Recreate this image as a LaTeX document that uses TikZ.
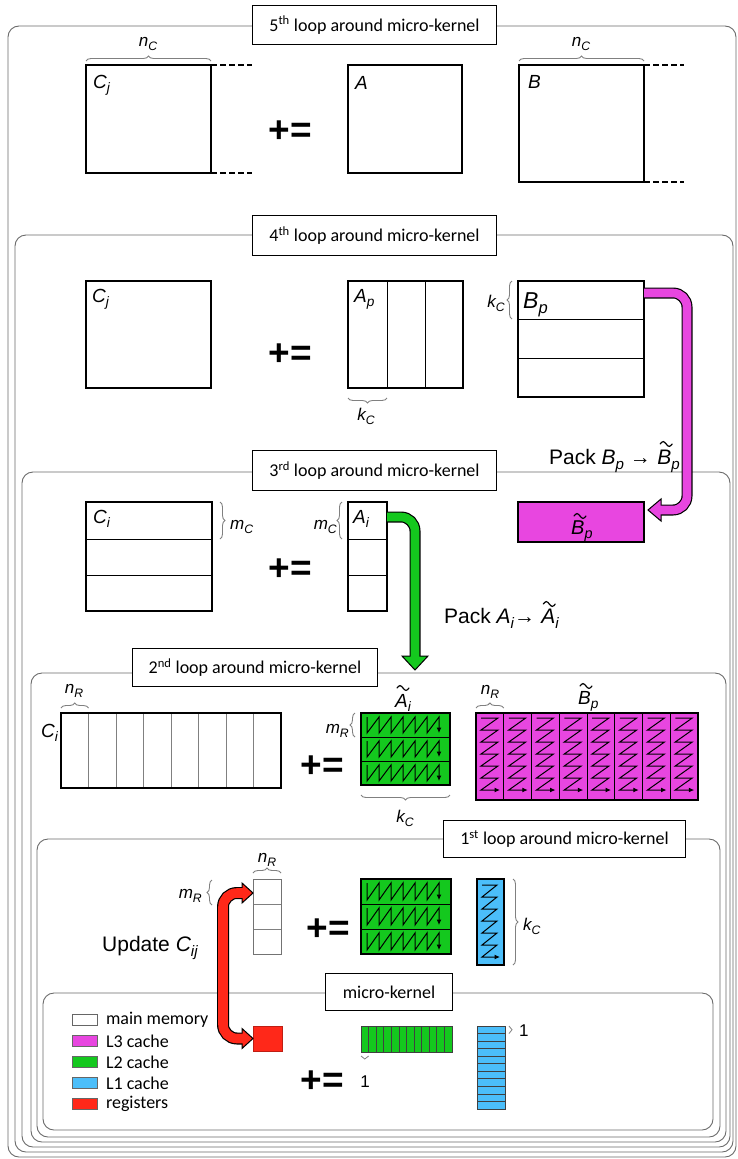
\documentclass[tikz,border=0pt]{standalone}
\usepackage{fontspec}
\usepackage{graphicx}
\setmainfont{Carlito}
\newfontfamily\hv{Liberation Sans}
\usetikzlibrary{arrows.meta,decorations.pathreplacing,calc}
\definecolor{mag}{HTML}{E846E0}
\definecolor{grn}{HTML}{14C81E}
\definecolor{blu}{HTML}{4BBEFA}
\definecolor{rgs}{HTML}{FF2819}
\definecolor{frm}{HTML}{6A6A6A}
\newcommand\fs[1]{\fontsize{#1}{#1}\selectfont}
\newcommand\mi{\hv\itshape}
\newcommand\sbs[1]{\raisebox{-0.24em}{\scalebox{0.72}{#1}}}
\newcommand\tildeat[1]{\draw[line width=1.2pt, line cap=round] ($(#1)+(-6,0)$) sin ++(3,-2.4) cos ++(3,2.4) sin ++(3,2.4) cos ++(3,-2.4);}
\tikzset{
  mat/.style={draw=black, line width=1.3pt, inner sep=0pt, outer sep=0pt, anchor=north west},
  loopframe/.style={draw=frm, line width=0.9pt, rounded corners=11pt},
  looplabel/.style={draw=black, line width=1pt, fill=white, inner sep=0pt, anchor=north west, font=\fs{18}},
  pe/.style={font=\hv\bfseries\fs{37}, inner sep=0pt},
  ml/.style={font=\mi\fs{19}, inner sep=0pt},
  sl/.style={font=\mi\fs{17}, inner sep=0pt},
  brc/.style={decorate, decoration={brace, amplitude=5pt}, draw=black!50, line width=0.9pt},
  smallbrc/.style={decorate, decoration={brace, amplitude=3pt}, draw=black!50, line width=0.8pt},
  zz/.style={line width=1pt, -{Latex[length=5.5pt,width=5pt]}},
  fatback/.style={line width=11pt, draw=black, rounded corners=14pt},
  fathead/.style={draw=black, line width=1pt, line join=miter},
  divline/.style={line width=1pt},
  graydiv/.style={draw=black!50, line width=0.8pt},
}
\begin{document}
\begin{tikzpicture}[x=1pt,y=-1pt]
\useasboundingbox (0,0) rectangle (737,1159);
% ---------- loop frames ----------
\draw[loopframe] (8,26) rectangle (736,1157);
\draw[loopframe] (15,235) rectangle (733,1152);
\draw[loopframe] (22,472) rectangle (730,1147);
\draw[loopframe] (31,673) rectangle (726,1142);
\draw[loopframe] (37,839) rectangle (720,1137);
\draw[loopframe] (43,993) rectangle (713,1130);
% ---------- loop labels ----------
\node[looplabel, minimum width=244, minimum height=39] (L5) at (252,5) {5\textsuperscript{th} loop around micro-kernel};
\node[looplabel, minimum width=244, minimum height=40] (L4) at (252,215) {4\textsuperscript{th} loop around micro-kernel};
\node[looplabel, minimum width=244, minimum height=40] (L3) at (252,450) {3\textsuperscript{rd} loop around micro-kernel};
\node[looplabel, minimum width=245, minimum height=38] (L2) at (132,648) {2\textsuperscript{nd} loop around micro-kernel};
\node[looplabel, minimum width=242, minimum height=37] (L1) at (443,820) {1\textsuperscript{st} loop around micro-kernel};
\node[looplabel, minimum width=127, minimum height=37] (L0) at (325,973) {micro-kernel};

% ---------- 5th loop ----------
\node[mat, minimum width=125, minimum height=108] (C5) at (86,65) {};
\node[ml, anchor=base west] (C5l) at (93,88) {C\sbs{j}};
\coordinate (d1) at (252,65);
\coordinate (d2) at (252,173);
\draw[dash pattern=on 6pt off 3pt, line width=1.2pt] (C5.north east) -- (d1);
\draw[dash pattern=on 6pt off 3pt, line width=1.2pt] (C5.south east) -- (d2);
\draw[brc] (86,61) -- (211,61);
\node[sl, anchor=base] (nc1) at (148,46) {n\sbs{C}};
\node[pe] (pe5) at (290,132) {+=};
\node[mat, minimum width=114, minimum height=108] (A5) at (348,65) {};
\node[ml, anchor=base west] (A5l) at (355,89) {A};
\node[mat, minimum width=125, minimum height=117] (B5) at (519,65) {};
\node[ml, anchor=base west] (B5l) at (528,88) {B};
\coordinate (d3) at (684,65);
\coordinate (d4) at (684,182);
\draw[dash pattern=on 6pt off 3pt, line width=1.2pt] (B5.north east) -- (d3);
\draw[dash pattern=on 6pt off 3pt, line width=1.2pt] (B5.south east) -- (d4);
\draw[brc] (519,61) -- (644,61);
\node[sl, anchor=base] (nc2) at (581,46) {n\sbs{C}};

% ---------- 4th loop ----------
\node[mat, minimum width=125, minimum height=107] (C4) at (86,281) {};
\node[ml, anchor=base west] (C4l) at (92,302) {C\sbs{j}};
\node[pe] (pe4) at (290,355) {+=};
\node[mat, minimum width=115, minimum height=107] (Ap) at (348,281) {};
\draw[divline] (387,281) -- (387,388);
\draw[divline] (425,281) -- (425,388);
\node[ml, anchor=base west] (Apl) at (354,302) {A\sbs{p}};
\draw[brc] (387,398) -- (348,398);
\node[sl, anchor=base] (kc1) at (366,420) {k\sbs{C}};
\node[mat, minimum width=126, minimum height=116] (Bp) at (518,281) {};
\draw[divline] (518,319.7) -- (644,319.7);
\draw[divline] (518,358.3) -- (644,358.3);
\node[font=\mi\fs{23}, inner sep=0pt, anchor=base west] (Bpl) at (523,308) {B\sbs{p}};
\draw[brc] (512,319) -- (512,281);
\node[sl, anchor=base east] (kc2) at (505,307) {k\sbs{C}};
\node[font=\hv\fs{21}, inner sep=0pt, anchor=base west] (packB) at (549,464) {Pack {\itshape B\sbs{p}} →};
\node[font=\mi\fs{21}, inner sep=0pt, anchor=base west] (packB2) at ($(packB.base east)+(6,0)$) {B\sbs{p}};
\tildeat{$(packB2.base west)+(9,-20)$}

% ---------- 3rd loop ----------
\node[mat, minimum width=126, minimum height=109] (C3) at (86,502) {};
\draw[divline] (86,539) -- (212,539);
\draw[divline] (86,575) -- (212,575);
\node[ml, anchor=base west] (C3l) at (93,523) {C\sbs{i}};
\draw[brc] (220,502) -- (220,539);
\node[sl, anchor=base west] (mc1) at (230,529) {m\sbs{C}};
\node[pe] (pe3) at (290,570) {+=};
\node[mat, minimum width=39, minimum height=109] (Ai) at (348,502) {};
\draw[divline] (348,539) -- (387,539);
\draw[divline] (348,575) -- (387,575);
\node[ml, anchor=base west] (Ail) at (353,523) {A\sbs{i}};
\draw[brc] (342,539) -- (342,502);
\node[sl, anchor=base east] (mc2) at (337,529) {m\sbs{C}};
\node[mat, fill=mag, minimum width=126, minimum height=40] (Bt3) at (518,502) {};
\node[font=\mi\fs{20}, inner sep=0pt, anchor=base west] (Bt3l) at (571,534) {B\sbs{p}};
\tildeat{$(Bt3l.base west)+(9,-18)$}
\node[font=\hv\fs{21}, inner sep=0pt, anchor=base west] (packA) at (444,623) {Pack {\itshape A\sbs{i}}→};
\node[font=\mi\fs{21}, inner sep=0pt, anchor=base west] (packA2) at ($(packA.base east)+(6,0)$) {A\sbs{i}};
\tildeat{$(packA2.base west)+(8,-19)$}

% magenta pack arrow  Bp -> Bt3
\coordinate (m0) at ($(Bp.north east)+(0,12)$);
\coordinate (mTip) at ($(Bt3.north east)+(4,8)$);
\draw[fatback] (m0) -- ++(43,0) |- ($(mTip)+(13,0)$);
\filldraw[fathead, fill=mag] (mTip) -- ++(13,-11) -- ++(0,22) -- cycle;
\draw[line width=8.6pt, mag, rounded corners=14pt] (m0) -- ++(43,0) |- ($(mTip)+(11,0)$);

% ---------- 2nd loop ----------
\foreach \k in {1,...,7} { \draw[graydiv] ({61+27.5*\k},713) -- ({61+27.5*\k},788); }
\node[mat, line width=1.1pt, minimum width=220, minimum height=75] (C2) at (61,713) {};
\node[ml, anchor=base east] (C2l) at (58,737) {C\sbs{i}};
\draw[brc] (61,708) -- (88.5,708);
\node[sl, anchor=base] (nr1) at (74,693) {n\sbs{R}};
\node[pe] (pe2) at (322,767) {+=};
\node[mat, fill=grn, line width=1.1pt, minimum width=89, minimum height=72] (At2) at (361,713) {};
\draw[divline] (361,737) -- (450,737);
\draw[divline] (361,761) -- (450,761);
\foreach \r in {0,1,2} {
  \draw[zz] (367,{717+24*\r}) \foreach \k in {1,...,6} { -- ++(0,16) -- ++(12,-16) } -- ++(0,16);
}
\draw[brc] (355,737) -- (355,713);
\node[sl, anchor=base east] (mr1) at (349,733) {m\sbs{R}};
\draw[brc] (450,795) -- (361,795);
\node[sl, anchor=base] (kc3) at (405,822) {k\sbs{C}};
\node[ml, anchor=base west] (At2l) at (395,707) {A\sbs{i}};
\tildeat{$(At2l.base west)+(8,-19)$}
\node[mat, fill=mag, line width=1.1pt, minimum width=222, minimum height=87] (Bt2) at (476,713) {};
\foreach \k in {1,...,7} { \draw[divline] ({476+27.75*\k},713) -- ({476+27.75*\k},800); }
\foreach \c in {0,...,7} {
  \draw[zz] ({476+27.75*\c+5},718) \foreach \k in {1,...,6} { -- ++(17,0) -- ++(-17,12) } -- ++(19,0);
}
\draw[brc] (476,708) -- (503.75,708);
\node[sl, anchor=base] (nr2) at (490,694) {n\sbs{R}};
\node[ml, anchor=base west] (Bt2l) at (578,704) {B\sbs{p}};
\tildeat{$(Bt2l.base west)+(8,-18)$}

% green pack arrow  Ai -> At2
\coordinate (g0) at ($(Ai.north east)+(0,15)$);
\coordinate (gTip) at (415,670);
\draw[fatback] (g0) -| ($(gTip)+(0,-14)$);
\filldraw[fathead, fill=grn] (gTip) -- ++(-13,-14) -- ++(26,0) -- cycle;
\draw[line width=8.6pt, grn, rounded corners=14pt] (g0) -| ($(gTip)+(0,-12)$);

% ---------- 1st loop ----------
\draw[graydiv] (253,904) -- (281,904);
\draw[graydiv] (253,929) -- (281,929);
\node[mat, draw=black!55, line width=0.9pt, minimum width=28, minimum height=75] (C1) at (253,879) {};
\draw[brc] (253,873) -- (281,873);
\node[sl, anchor=base] (nr3) at (267,862) {n\sbs{R}};
\draw[brc] (212,905) -- (212,880);
\node[sl, anchor=base east] (mr2) at (202,898) {m\sbs{R}};
\node[font=\hv\fs{21}, inner sep=0pt, anchor=base west] (upd) at (102,951) {Update {\itshape C\sbs{ij}}};
\node[pe] (pe1) at (328,930) {+=};
\node[mat, fill=grn, line width=1.1pt, minimum width=90, minimum height=75] (G1) at (361,879) {};
\draw[divline] (361,904) -- (451,904);
\draw[divline] (361,929) -- (451,929);
\foreach \r in {0,1,2} {
  \draw[zz] (367,{883+25*\r}) \foreach \k in {1,...,6} { -- ++(0,17) -- ++(12,-17) } -- ++(0,17);
}
\node[mat, fill=blu, line width=1.1pt, minimum width=27, minimum height=86] (B1) at (477,879) {};
\draw[zz] (482,885) \foreach \k in {1,...,6} { -- ++(15,0) -- ++(-15,12) } -- ++(18,0);
\draw[brc] (513,879) -- (513,965);
\node[sl, anchor=base west] (kc4) at (523,930) {k\sbs{C}};

% ---------- micro-kernel ----------
\foreach \i/\c/\t in {0/white/main memory, 1/mag/L3 cache, 2/grn/L2 cache, 3/blu/L1 cache, 4/rgs/registers} {
  \node[draw=black!60, line width=0.8pt, fill=\c, minimum width=25, minimum height=11, inner sep=0pt, anchor=north west] (lg\i) at (72,{1014+21.1*\i}) {};
  \node[anchor=west, font=\fs{18}, inner sep=0pt] (lgt\i) at ($(lg\i.east)+(8,0)$) {\t};
}
\node[mat, fill=rgs, draw=rgs!75!black, line width=0.6pt, minimum width=29, minimum height=25] (Reg) at (253,1026) {};
\node[pe] (pe0) at (322,1082) {+=};
\node[mat, fill=grn, draw=black!75, line width=1pt, minimum width=91, minimum height=26] (G0) at (361,1026) {};
\foreach \k in {1,...,11} { \draw[draw=black!75, line width=0.7pt] ({361+91/12*\k},1026) -- ({361+91/12*\k},1052); }
\draw[smallbrc] (368.6,1056) -- (361,1056);
\node[font=\hv\fs{17}, anchor=base, inner sep=0pt] (one1) at (365,1087) {1};
\node[mat, fill=blu, draw=black!75, line width=1pt, minimum width=28, minimum height=83] (B0) at (477,1026) {};
\foreach \k in {1,...,10} { \draw[draw=black!75, line width=0.7pt] (477,{1026+83/11*\k}) -- (505,{1026+83/11*\k}); }
\draw[smallbrc] (509,1026) -- (509,1033.5);
\node[font=\hv\fs{17}, anchor=base west, inner sep=0pt] (one2) at (519,1036) {1};

% red update arrow  C1 <-> Reg
\coordinate (rTop) at ($(C1.north west)+(0,14)$);
\coordinate (rBot) at (Reg.west);
\draw[fatback, line width=12pt] ($(rTop)+(-11,0)$) -- ++(-19,0) |- ($(rBot)+(-11,0)$);
\filldraw[fathead, fill=rgs] (rTop) -- ++(-11,-10) -- ++(0,20) -- cycle;
\filldraw[fathead, fill=rgs] (rBot) -- ++(-11,-10) -- ++(0,20) -- cycle;
\draw[line width=9.6pt, rgs, rounded corners=14pt] ($(rTop)+(-9,0)$) -- ++(-21,0) |- ($(rBot)+(-9,0)$);
\end{tikzpicture}
\end{document}
